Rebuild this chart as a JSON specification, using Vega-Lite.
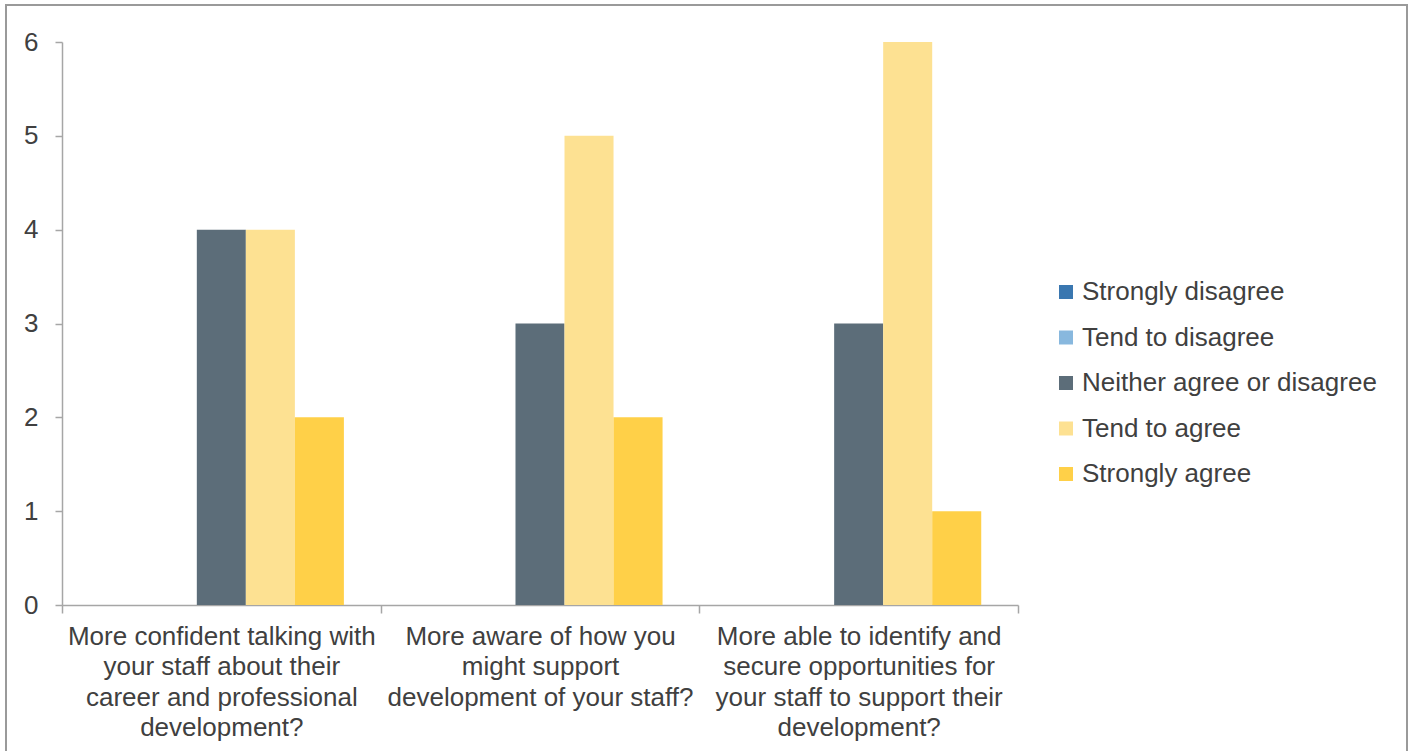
{
  "$schema": "https://vega.github.io/schema/vega-lite/v6.json",
  "autosize": {"type": "none"},
  "width": 1401,
  "height": 747,
  "padding": {"left": 6, "top": 5, "right": 3, "bottom": 0},
  "background": "white",
  "config": {
    "view": {"stroke": "#9A9A9A", "strokeWidth": 2},
    "font": "Liberation Sans",
    "axis": {"labelFont": "Liberation Sans", "labelColor": "#404040", "domainColor": "#A6A6A6", "tickColor": "#A6A6A6", "domainWidth": 1.5, "tickWidth": 1.5, "grid": false}
  },
  "data": {
    "values": [
      {"question": "More confident talking with your staff about their career and professional development?", "response": "Strongly disagree", "count": 0},
      {"question": "More confident talking with your staff about their career and professional development?", "response": "Tend to disagree", "count": 0},
      {"question": "More confident talking with your staff about their career and professional development?", "response": "Neither agree or disagree", "count": 4},
      {"question": "More confident talking with your staff about their career and professional development?", "response": "Tend to agree", "count": 4},
      {"question": "More confident talking with your staff about their career and professional development?", "response": "Strongly agree", "count": 2},
      {"question": "More aware of how you might support development of your staff?", "response": "Strongly disagree", "count": 0},
      {"question": "More aware of how you might support development of your staff?", "response": "Tend to disagree", "count": 0},
      {"question": "More aware of how you might support development of your staff?", "response": "Neither agree or disagree", "count": 3},
      {"question": "More aware of how you might support development of your staff?", "response": "Tend to agree", "count": 5},
      {"question": "More aware of how you might support development of your staff?", "response": "Strongly agree", "count": 2},
      {"question": "More able to identify and secure opportunities for your staff to support their development?", "response": "Strongly disagree", "count": 0},
      {"question": "More able to identify and secure opportunities for your staff to support their development?", "response": "Tend to disagree", "count": 0},
      {"question": "More able to identify and secure opportunities for your staff to support their development?", "response": "Neither agree or disagree", "count": 3},
      {"question": "More able to identify and secure opportunities for your staff to support their development?", "response": "Tend to agree", "count": 6},
      {"question": "More able to identify and secure opportunities for your staff to support their development?", "response": "Strongly agree", "count": 1}
    ]
  },
  "mark": {"type": "bar"},
  "encoding": {
    "x": {
      "field": "question",
      "type": "nominal",
      "sort": null,
      "title": null,
      "scale": {"paddingInner": 0, "paddingOuter": 0, "range": [56, 1012]},
      "axis": {
        "offset": -147,
        "labelAngle": 0,
        "labelFontSize": 26,
        "labelLineHeight": 30.5,
        "labelPadding": 10,
        "labelBaseline": "top",
        "tickBand": "extent",
        "tickSize": 8,
        "labelLimit": 400,
        "labelExpr": "datum.index < 0 ? '' : indexof(datum.label, 'confident') >= 0 ? ['More confident talking with', 'your staff about their', 'career and professional', 'development?'] : indexof(datum.label, 'aware') >= 0 ? ['More aware of how you', 'might support', 'development of your staff?'] : ['More able to identify and', 'secure opportunities for', 'your staff to support their', 'development?']"
      }
    },
    "xOffset": {
      "field": "response",
      "type": "nominal",
      "sort": ["Strongly disagree", "Tend to disagree", "Neither agree or disagree", "Tend to agree", "Strongly agree"],
      "scale": {"paddingInner": 0, "paddingOuter": 0.75}
    },
    "y": {
      "field": "count",
      "type": "quantitative",
      "title": null,
      "scale": {"domain": [0, 6], "range": [600, 37]},
      "axis": {"offset": -56, "values": [0, 1, 2, 3, 4, 5, 6], "labelFontSize": 26, "labelPadding": 17, "tickSize": 7, "format": "d"}
    },
    "color": {
      "field": "response",
      "type": "nominal",
      "sort": ["Strongly disagree", "Tend to disagree", "Neither agree or disagree", "Tend to agree", "Strongly agree"],
      "scale": {
        "domain": ["Strongly disagree", "Tend to disagree", "Neither agree or disagree", "Tend to agree", "Strongly agree"],
        "range": ["#3A77B0", "#88B8DE", "#5C6D79", "#FDE192", "#FFD048"]
      },
      "legend": {
        "title": null,
        "orient": "none",
        "legendX": 1047,
        "legendY": 274,
        "symbolType": "square",
        "symbolSize": 196,
        "symbolStrokeWidth": 0,
        "labelFontSize": 26,
        "labelColor": "#404040",
        "labelFont": "Liberation Sans",
        "labelOffset": 3,
        "rowPadding": 19.5,
        "labelLimit": 400
      }
    }
  }
}
